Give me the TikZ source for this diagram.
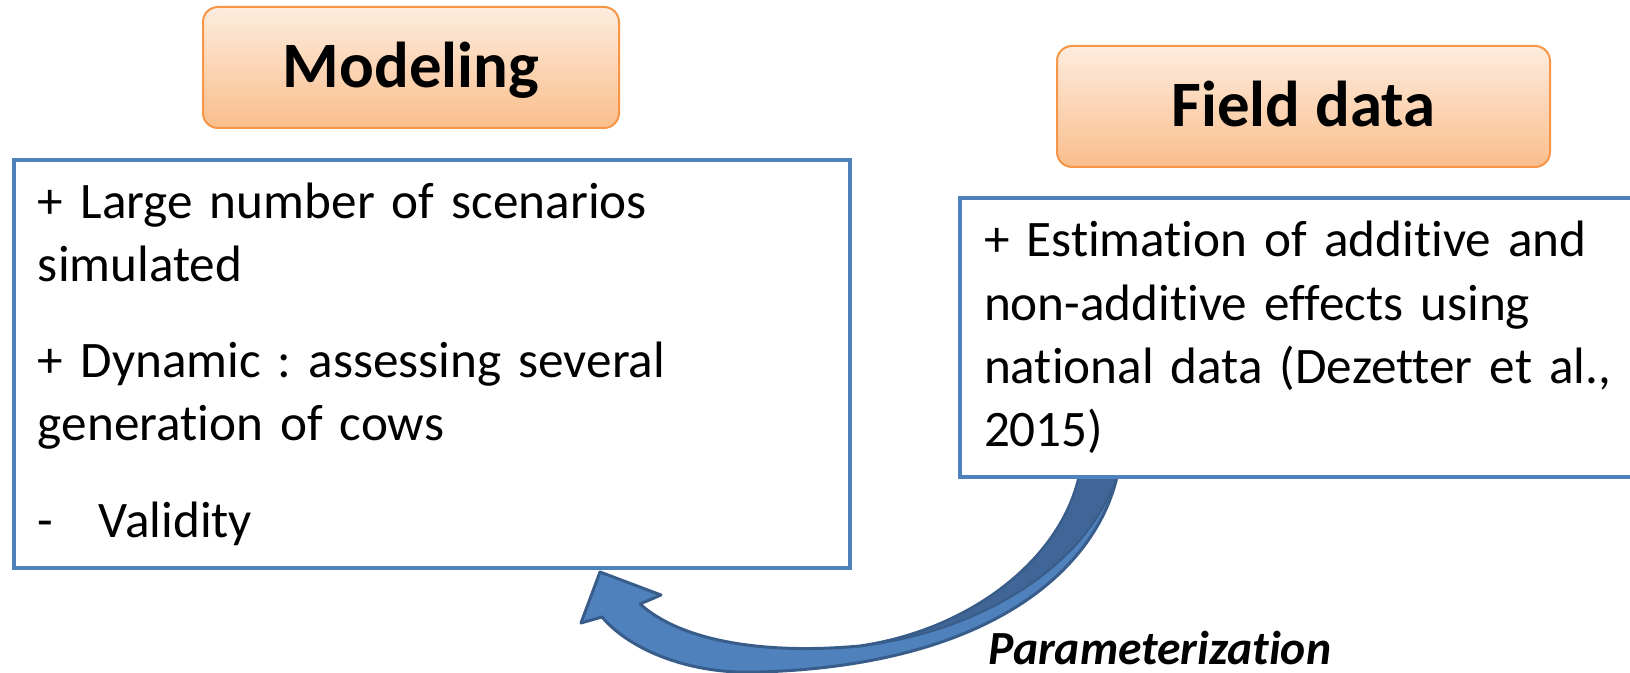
\documentclass[tikz,border=0pt]{standalone}
\usepackage{fontspec}
\setmainfont{Carlito}[Ligatures=NoCommon]
\usetikzlibrary{positioning}
\frenchspacing

\definecolor{boxblue}{RGB}{79,129,189}
\definecolor{arrowedge}{RGB}{56,93,138}
\definecolor{arrowback}{RGB}{64,102,152}
\definecolor{titleedge}{RGB}{247,150,70}
\definecolor{titletop}{RGB}{253,236,222}
\definecolor{titlebottom}{RGB}{250,190,140}

\begin{document}
\begin{tikzpicture}
    [
        x=0.5pt, y=-0.5pt, % one unit = one pixel of the slide
        title/.style={draw=titleedge, line width=1pt, rounded corners=7.5pt, top color=titletop, bottom color=titlebottom, minimum height=60.5pt, inner sep=0pt, text height=20.5pt, text depth=0pt, font=\fontsize{32.4}{38}\selectfont\bfseries},
        panel/.style={draw=boxblue, line width=2pt, fill=white, align=left, inner xsep=12pt, font=\fontsize{25.6}{31.6}\selectfont},
        curvearrow/.style={draw=arrowedge, line width=1.5pt, line join=round}
    ]
        \useasboundingbox (0,0) rectangle (1630,673);
        % =========================================================================
        % ARROW
        % =========================================================================
        \filldraw [curvearrow, fill=boxblue]
            (1079,477) .. controls (1060,560) and (970,630) .. (860,646)
            .. controls (760,655) and (680,640) .. (640,604)
            -- (661,595) -- (600,572) -- (581,623) -- (602,617)
            .. controls (630,650) and (690,675) .. (760,672)
            .. controls (990,665) and (1095,570) .. (1117,477) -- cycle;
        % back face
        \filldraw [curvearrow, line width=1pt, fill=arrowback]
            (1079,477) .. controls (1060,560) and (970,630) .. (860,646)
            .. controls (960,635) and (1080,580) .. (1117,477) -- cycle;

        % =========================================================================
        % NODES
        % =========================================================================
        % --- Modeling ---
        \node [title, minimum width=208pt] (modeling) at (411,67.5) {Modeling};
        \node [panel, text width=394pt, minimum height=204pt, anchor=north west] (modelbox) at (12,158)
            {+ Large number of scenarios\\ simulated\\[16.5pt]
             + Dynamic : assessing several\\ generation of cows\\[16.5pt]
             \makebox[30.5pt][l]{-}Validity};
        % --- Field data ---
        \node [title, minimum width=246.5pt] (fielddata) at (1303.5,106.5) {Field data};
        \node [panel, text width=327pt, minimum height=139.5pt, anchor=north west] (fieldbox) at (958,196)
            {+ Estimation of additive and\\ non-additive effects using\\
             national data (Dezetter et al.,\\ 2015)};
        % --- Label ---
        \node [anchor=base west, inner sep=0pt, text depth=0pt, font=\fontsize{23.8}{28}\selectfont\bfseries\itshape] (param) at (988,665) {Parameterization};

    \end{tikzpicture}
\end{document}
